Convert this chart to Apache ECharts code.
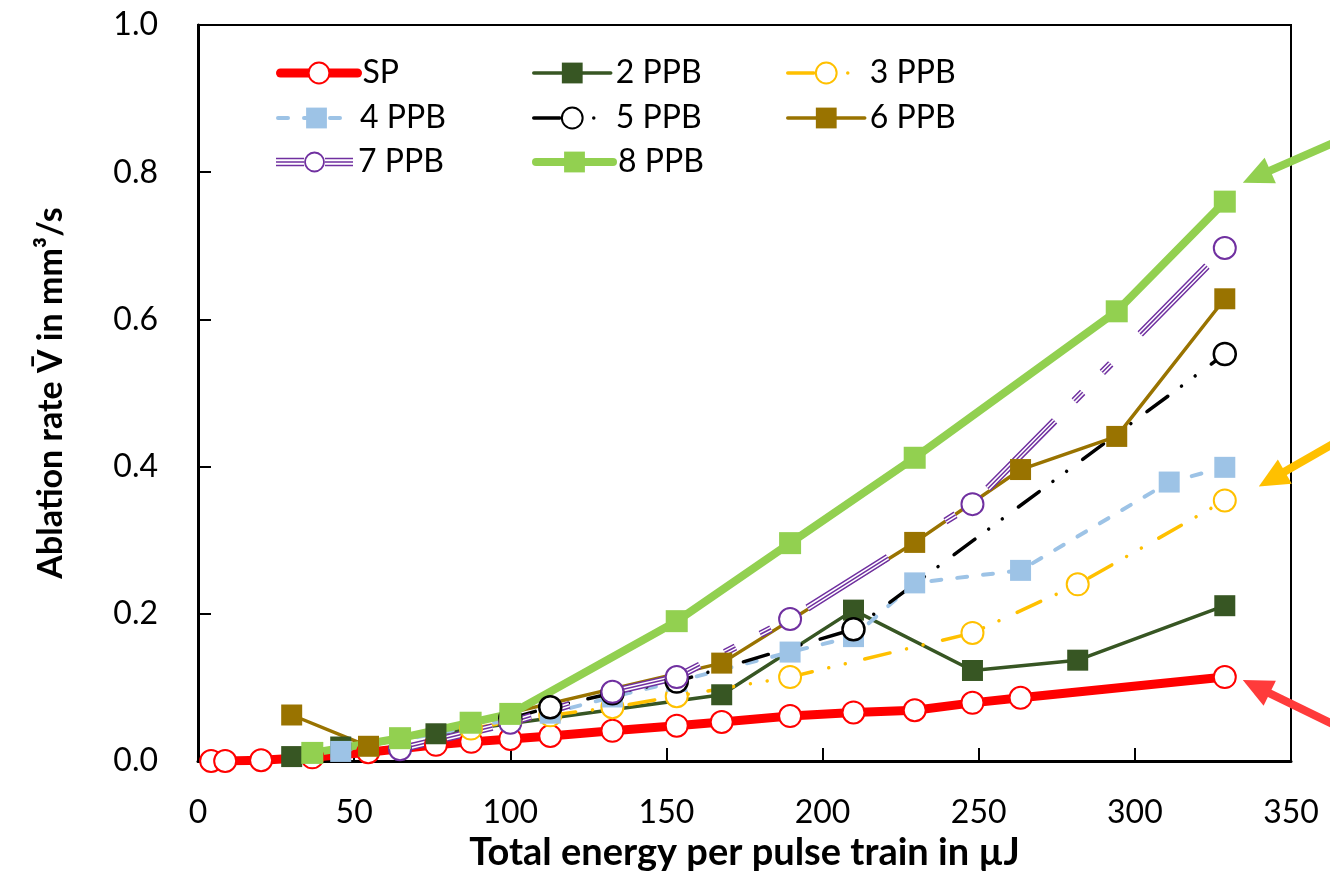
<!DOCTYPE html>
<html>
<head>
<meta charset="utf-8">
<script src="https://cdn.jsdelivr.net/npm/echarts@6/dist/echarts.min.js"></script>
<style>
  html, body { margin: 0; padding: 0; background: #fff; }
  #chart { width: 1330px; height: 872px; }
</style>
</head>
<body>
<div id="chart"></div>
<script>
// Total energy per pulse train (µJ) against ablation rate (mm³/s)
const spX   = [4.2, 8.7, 20.2, 36.6, 54.5, 76.2, 87.5, 100, 112.8, 132.7, 153.3, 167.7, 189.6, 209.9, 229.5, 248, 263.4, 328.8];
const spY   = [0.000, 0.000, 0.001, 0.005, 0.012, 0.022, 0.026, 0.030, 0.034, 0.041, 0.048, 0.053, 0.061, 0.066, 0.069, 0.079, 0.086, 0.114];
const ppb2X = [30, 45.7, 76.2, 167.7, 209.9, 248, 281.7, 328.8];
const ppb2Y = [0.006, 0.019, 0.037, 0.090, 0.205, 0.123, 0.137, 0.211];
const ppb3X = [87.4, 100, 112.8, 132.7, 153.3, 189.6, 248, 281.7, 328.8];
const ppb3Y = [0.044, 0.053, 0.062, 0.073, 0.088, 0.114, 0.174, 0.240, 0.354];
const ppb4X = [45.7, 100, 112.8, 132.7, 153.3, 189.6, 209.9, 229.5, 263.4, 311, 328.8];
const ppb4Y = [0.013, 0.056, 0.065, 0.087, 0.108, 0.148, 0.169, 0.242, 0.259, 0.379, 0.399];
const ppb5X = [100, 112.8, 132.7, 153.3, 209.9, 328.8];
const ppb5Y = [0.058, 0.073, 0.092, 0.108, 0.179, 0.553];
const ppb6X = [30, 54.6, 167.7, 229.5, 263.4, 294.2, 328.8];
const ppb6Y = [0.0625, 0.020, 0.133, 0.297, 0.396, 0.441, 0.628];
const ppb7X = [64.7, 100, 132.7, 153.3, 189.6, 248, 328.8];
const ppb7Y = [0.016, 0.052, 0.094, 0.114, 0.193, 0.349, 0.697];
const ppb8X = [36.6, 64.7, 87.3, 100, 153.3, 189.6, 229.5, 294.2, 328.8];
const ppb8Y = [0.011, 0.031, 0.052, 0.064, 0.190, 0.296, 0.412, 0.611, 0.760];

const seriesNames = ['SP', '2 PPB', '3 PPB', '4 PPB', '5 PPB', '6 PPB', '7 PPB', '8 PPB'];
const xTitle = 'Total energy per pulse train in µJ';
const yTitle = 'Ablation rate V\u0304 in mm³/s';

const FONT = 'Lato, "Open Sans", sans-serif';
const pairs = (xs, ys) => xs.map((x, i) => [x, ys[i]]);

// Dash patterns: long dash / dot / dot, plain dash, and the wide dash used by the triple line
const dashDotDot = [26, 17, 0.01, 17, 0.01, 20];
const shortDash = [10, 16];
const tripleDash = [95, 28, 12, 28, 12, 42];

function openCircle(color, bw) {
  return { color: '#fff', borderColor: color, borderWidth: bw };
}

const series = [
  {
    name: 'SP', type: 'line', data: pairs(spX, spY),
    symbol: 'circle', symbolSize: 22,
    lineStyle: { color: '#FF0000', width: 9, cap: 'round', join: 'round' },
    itemStyle: openCircle('#FF0000', 2)
  },
  {
    name: '2 PPB', type: 'line', data: pairs(ppb2X, ppb2Y),
    symbol: 'rect', symbolSize: 21,
    lineStyle: { color: '#375623', width: 3.5 },
    itemStyle: { color: '#375623' }
  },
  {
    name: '3 PPB', type: 'line', data: pairs(ppb3X, ppb3Y),
    symbol: 'circle', symbolSize: 22,
    lineStyle: { color: '#FFC000', width: 3.5, type: dashDotDot, cap: 'round' },
    itemStyle: openCircle('#FFC000', 2)
  },
  {
    name: '4 PPB', type: 'line', data: pairs(ppb4X, ppb4Y),
    symbol: 'rect', symbolSize: 21,
    lineStyle: { color: '#9DC3E6', width: 4, type: shortDash, cap: 'round' },
    itemStyle: { color: '#9DC3E6' }
  },
  {
    name: '5 PPB', type: 'line', data: pairs(ppb5X, ppb5Y),
    symbol: 'circle', symbolSize: 22,
    lineStyle: { color: '#000000', width: 3.5, type: dashDotDot, cap: 'round' },
    itemStyle: openCircle('#000000', 2.5)
  },
  {
    name: '6 PPB', type: 'line', data: pairs(ppb6X, ppb6Y),
    symbol: 'rect', symbolSize: 21,
    lineStyle: { color: '#997300', width: 3.5 },
    itemStyle: { color: '#997300' }
  },
  // 7 PPB triple line: wide purple band, white core, thin purple centre
  {
    name: '7 PPB band', type: 'line', data: pairs(ppb7X, ppb7Y),
    symbol: 'none', silent: true, legendHoverLink: false,
    lineStyle: { color: '#7030A0', width: 7.5, type: tripleDash, cap: 'butt' }
  },
  {
    name: '7 PPB core', type: 'line', data: pairs(ppb7X, ppb7Y),
    symbol: 'none', silent: true, legendHoverLink: false,
    lineStyle: { color: '#ffffff', width: 4.5, type: tripleDash, cap: 'butt' }
  },
  {
    name: '7 PPB', type: 'line', data: pairs(ppb7X, ppb7Y),
    symbol: 'circle', symbolSize: 22,
    lineStyle: { color: '#7030A0', width: 1.5, type: tripleDash, cap: 'butt' },
    itemStyle: openCircle('#7030A0', 2)
  },
  {
    name: '8 PPB', type: 'line', data: pairs(ppb8X, ppb8Y),
    symbol: 'rect', symbolSize: 22,
    lineStyle: { color: '#92D050', width: 8, cap: 'round', join: 'round' },
    itemStyle: { color: '#92D050' }
  }
];

// Legend icon for the triple line: three thin strokes broken by a ring
const tripleIcon = 'path://M0,0M77,26' +
  'M0,8.7h28v1.6h-28z M0,12.2h28v1.6h-28z M0,15.7h28v1.6h-28z' +
  'M49,8.7h28v1.6h-28z M49,12.2h28v1.6h-28z M49,15.7h28v1.6h-28z' +
  'M28.1,13a10.4,10.4 0 1,0 20.8,0a10.4,10.4 0 1,0 -20.8,0z' +
  'M29.9,13a8.6,8.6 0 1,1 17.2,0a8.6,8.6 0 1,1 -17.2,0z';

// Legend laid out as a 3-column grid
const legendCols = [276, 532, 786];
const legendRows = [57, 102, 146];
const legends = seriesNames.map((name, i) => {
  const item = { name };
  if (name === '7 PPB') {
    item.icon = tripleIcon;
    item.itemStyle = { color: '#7030A0', borderColor: '#7030A0', borderWidth: 0 };
  }
  return {
    data: [item],
    left: legendCols[i % 3], top: legendRows[Math.floor(i / 3)],
    padding: 0, itemWidth: 77, itemHeight: 26, itemGap: 0,
    selectedMode: false,
    lineStyle: { width: 'inherit', type: 'inherit', cap: 'round' },
    textStyle: { fontFamily: FONT, fontSize: 32, color: '#000', padding: [0, 0, 0, 0] }
  };
});

const chart = echarts.init(document.getElementById('chart'), null, { renderer: 'canvas' });

chart.setOption({
  animation: false,
  backgroundColor: '#fff',
  grid: {
    left: 198, right: 39, top: 25, bottom: 111,
    outerBoundsMode: 'none', containLabel: false,
    show: true, borderColor: '#000', borderWidth: 2, backgroundColor: 'transparent'
  },
  legend: legends,
  xAxis: {
    type: 'value', min: 0, max: 350, interval: 50,
    axisLine: { show: true, lineStyle: { color: '#000', width: 3 } },
    axisTick: { show: true, inside: true, length: 13, lineStyle: { color: '#000', width: 2 } },
    axisLabel: { color: '#000', fontFamily: FONT, fontSize: 32, margin: 36 },
    splitLine: { show: false },
    name: xTitle, nameLocation: 'middle', nameGap: 70,
    nameTextStyle: { color: '#000', fontFamily: FONT, fontSize: 38, fontWeight: 'bold' }
  },
  yAxis: {
    type: 'value', min: 0, max: 1, interval: 0.2,
    axisLine: { show: true, lineStyle: { color: '#000', width: 3 } },
    axisTick: { show: true, inside: true, length: 13, lineStyle: { color: '#000', width: 2 } },
    axisLabel: { color: '#000', fontFamily: FONT, fontSize: 32, margin: 40, formatter: v => v.toFixed(1) },
    splitLine: { show: false },
    name: yTitle, nameLocation: 'middle', nameGap: 130, nameRotate: 90,
    nameTextStyle: { color: '#000', fontFamily: FONT, fontSize: 34, fontWeight: 'bold' }
  },
  series
});

// Call-out arrows pointing at the last points of SP, 3/4 PPB and 8 PPB
function arrow(anchor, tipOff, tailOff, color) {
  const a = chart.convertToPixel({ gridIndex: 0 }, anchor);
  const tip = [a[0] + tipOff[0], a[1] + tipOff[1]];
  const tail = [a[0] + tailOff[0], a[1] + tailOff[1]];
  const dx = tip[0] - tail[0], dy = tip[1] - tail[1];
  const len = Math.hypot(dx, dy);
  const ux = dx / len, uy = dy / len;
  const headLen = 30, headHalf = 14;
  const base = [tip[0] - ux * headLen, tip[1] - uy * headLen];
  return [
    { type: 'line', silent: true,
      shape: { x1: tail[0], y1: tail[1], x2: base[0] + ux * 4, y2: base[1] + uy * 4 },
      style: { stroke: color, lineWidth: 8 } },
    { type: 'polygon', silent: true,
      shape: { points: [tip, [base[0] - uy * headHalf, base[1] + ux * headHalf], [base[0] + uy * headHalf, base[1] - ux * headHalf]] },
      style: { fill: color } }
  ];
}

const last = ppb8X.length - 1;
chart.setOption({
  graphic: [
    ...arrow([ppb8X[last], ppb8Y[last]], [18, -19], [118, -63], '#92D050'),
    ...arrow([ppb3X[ppb3X.length - 1], ppb3Y[ppb3Y.length - 1]], [34, -14], [116, -61], '#FFC000'),
    ...arrow([spX[spX.length - 1], spY[spY.length - 1]], [18, 3], [118, 52], '#FF3B3B')
  ]
});
</script>
</body>
</html>
